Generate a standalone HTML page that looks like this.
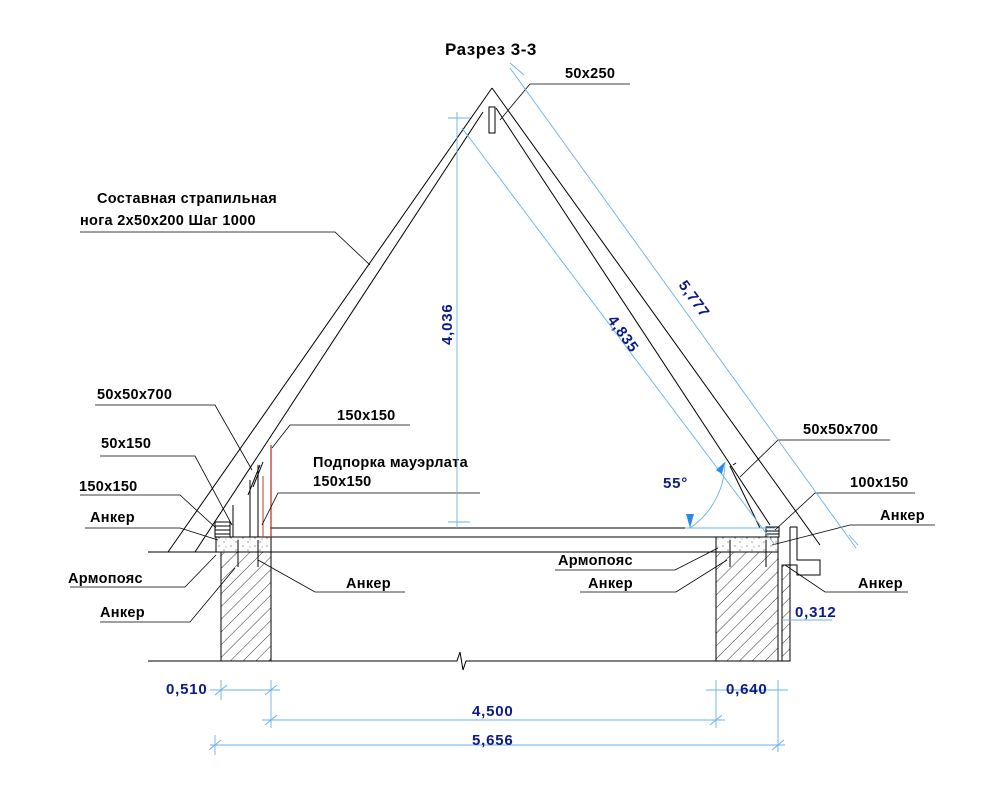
<!DOCTYPE html>
<html><head><meta charset="utf-8"><style>
html,body{margin:0;padding:0;background:#fff}
svg{display:block}
text{font-family:"Liberation Sans",Arial,sans-serif}
.l{font-size:14.5px;fill:#000;font-weight:bold;letter-spacing:0.3px}
.d{font-size:15px;fill:#0a1a8a;font-weight:bold;letter-spacing:0.8px}
</style></head><body>
<svg width="999" height="798" viewBox="0 0 999 798" xmlns="http://www.w3.org/2000/svg">
<defs>
<pattern id="h" width="9" height="9" patternUnits="userSpaceOnUse" patternTransform="rotate(45)">
<line x1="0" y1="0" x2="0" y2="9" stroke="#000" stroke-width="0.8"/></pattern>
<pattern id="c" width="12" height="8" patternUnits="userSpaceOnUse">
<circle cx="3" cy="2" r="0.6" fill="#555"/><circle cx="8" cy="6" r="0.6" fill="#555"/><circle cx="10" cy="3" r="0.5" fill="#555"/></pattern>
</defs>
<text x="445" y="55" style="font-size:17px;font-weight:bold;letter-spacing:0.5px">Разрез 3-3</text>
<g stroke="#000" stroke-width="1" fill="none">
<line x1="492" y1="88" x2="168" y2="552"/>
<line x1="483" y1="112" x2="195" y2="552"/>
<line x1="492" y1="88" x2="820" y2="545"/>
<line x1="496" y1="108" x2="770" y2="525"/>
<line x1="148" y1="552" x2="778" y2="552"/>
<line x1="215" y1="537" x2="778" y2="537"/>
<line x1="270" y1="528" x2="773" y2="528"/>
<polyline points="148,661 457,661 460,652 463,670 466,661 790,661"/>
<rect x="221" y="552" width="50" height="109" fill="url(#h)"/>
<rect x="716" y="552" width="62" height="109" fill="url(#h)"/>
<rect x="782" y="565" width="8" height="96" fill="url(#h)"/>
<rect x="216" y="537" width="55" height="15" fill="url(#c)"/>
<rect x="716" y="537" width="62" height="15" fill="url(#c)"/>
<line x1="250" y1="537" x2="250" y2="480"/>
<line x1="258" y1="537" x2="258" y2="465"/>
<line x1="248" y1="495" x2="260" y2="465"/>
<line x1="253" y1="487" x2="263" y2="462"/>
<rect x="215" y="522" width="15" height="15"/>
<line x1="215" y1="526" x2="230" y2="526"/><line x1="215" y1="530" x2="230" y2="530"/><line x1="215" y1="534" x2="230" y2="534"/>
<line x1="233" y1="537" x2="233" y2="505"/>
<rect x="766" y="527" width="13" height="10"/>
<line x1="766" y1="531" x2="779" y2="531"/><line x1="766" y1="534" x2="779" y2="534"/>
<line x1="730" y1="466" x2="760" y2="528"/>
<line x1="733" y1="465" x2="736" y2="463"/>
<polyline points="790,527 797,527 797,560 820,560 820,575 797,575 797,565 790,565 790,527"/>
<rect x="489" y="107" width="6" height="26"/>
<line x1="238" y1="540" x2="238" y2="567"/><line x1="258" y1="540" x2="258" y2="567"/>
<line x1="730" y1="540" x2="730" y2="567"/><line x1="766" y1="540" x2="766" y2="567"/>
</g>
<line x1="271" y1="445" x2="271" y2="537" stroke="#c0392b" stroke-width="1.3"/>
<line x1="263" y1="476" x2="263" y2="537" stroke="#c0392b" stroke-width="1"/>
<g stroke="#000" stroke-width="0.8" fill="none">
<polyline points="80,232 335,232 370,265"/>
<polyline points="95,405 215,405 252,470"/>
<polyline points="330,425 410,425 290,425 272,448"/>
<polyline points="100,456 195,456 232,525"/>
<polyline points="80,495 180,495 216,528"/>
<polyline points="85,528 180,528 218,540"/>
<polyline points="70,587 185,587 216,555"/>
<polyline points="100,622 190,622 235,568"/>
<polyline points="405,592 315,592 258,560"/>
<polyline points="278,493 480,493 278,493 262,525"/>
<polyline points="630,84 530,84 500,120"/>
<polyline points="890,440 778,440 740,477"/>
<polyline points="915,493 815,493 775,530"/>
<polyline points="935,525 850,525 772,545"/>
<polyline points="555,570 675,570 718,548"/>
<polyline points="580,592 676,592 727,560"/>
<polyline points="908,592 825,592 785,565"/>
</g>
<text class="l" x="97" y="203">Составная страпильная</text>
<text class="l" x="80" y="225">нога 2х50х200 Шаг 1000</text>
<text class="l" x="97" y="399">50х50х700</text>
<text class="l" x="337" y="420">150х150</text>
<text class="l" x="101" y="448">50х150</text>
<text class="l" x="313" y="467">Подпорка мауэрлата</text>
<text class="l" x="313" y="486">150х150</text>
<text class="l" x="79" y="491">150х150</text>
<text class="l" x="90" y="522">Анкер</text>
<text class="l" x="68" y="583">Армопояс</text>
<text class="l" x="100" y="617">Анкер</text>
<text class="l" x="346" y="588">Анкер</text>
<text class="l" x="565" y="78">50х250</text>
<text class="l" x="803" y="434">50х50х700</text>
<text class="l" x="850" y="487">100х150</text>
<text class="l" x="880" y="520">Анкер</text>
<text class="l" x="558" y="565">Армопояс</text>
<text class="l" x="588" y="588">Анкер</text>
<text class="l" x="858" y="588">Анкер</text>
<g stroke="#6bb0e8" stroke-width="0.9" fill="none">
<line x1="457" y1="112" x2="457" y2="528"/>
<line x1="448" y1="118" x2="470" y2="118"/><line x1="448" y1="522" x2="470" y2="522"/>
<line x1="510" y1="68" x2="856" y2="548"/>
<line x1="462" y1="128" x2="775" y2="545"/>
<line x1="685" y1="528" x2="775" y2="528"/>
<path d="M690,528 A80,80 0 0 0 725,462"/>
<line x1="221" y1="680" x2="221" y2="700"/><line x1="271" y1="680" x2="271" y2="728"/>
<line x1="210" y1="690" x2="280" y2="690"/>
<line x1="262" y1="720" x2="725" y2="720"/>
<line x1="716" y1="680" x2="716" y2="728"/><line x1="778" y1="680" x2="778" y2="752"/>
<line x1="706" y1="690" x2="788" y2="690"/>
<line x1="210" y1="745" x2="785" y2="745"/><line x1="215" y1="735" x2="215" y2="755"/>
<line x1="782" y1="620" x2="832" y2="620"/>
</g>
<g stroke="#6bb0e8" stroke-width="0.9">
<line x1="510" y1="63" x2="524" y2="75"/><line x1="849" y1="535" x2="858" y2="545"/>
<line x1="215" y1="695" x2="227" y2="685"/><line x1="265" y1="695" x2="277" y2="685"/>
<line x1="265" y1="725" x2="277" y2="715"/><line x1="710" y1="725" x2="722" y2="715"/>
<line x1="209" y1="750" x2="221" y2="740"/><line x1="772" y1="750" x2="784" y2="740"/>
</g>
<polygon points="690,528 686,514 694,514" fill="#2a8ae8"/>
<polygon points="725,462 716,470 722,474" fill="#2a8ae8"/>
<text class="d" x="0" y="0" transform="translate(452,345) rotate(-90)">4,036</text>
<text class="d" x="0" y="0" transform="translate(607,320) rotate(54)">4,835</text>
<text class="d" x="0" y="0" transform="translate(678,285) rotate(54)">5,777</text>
<text class="d" x="663" y="488">55°</text>
<text class="d" x="166" y="694">0,510</text>
<text class="d" x="726" y="694">0,640</text>
<text class="d" x="472" y="716">4,500</text>
<text class="d" x="472" y="745">5,656</text>
<text class="d" x="795" y="617">0,312</text>
</svg>
</body></html>
